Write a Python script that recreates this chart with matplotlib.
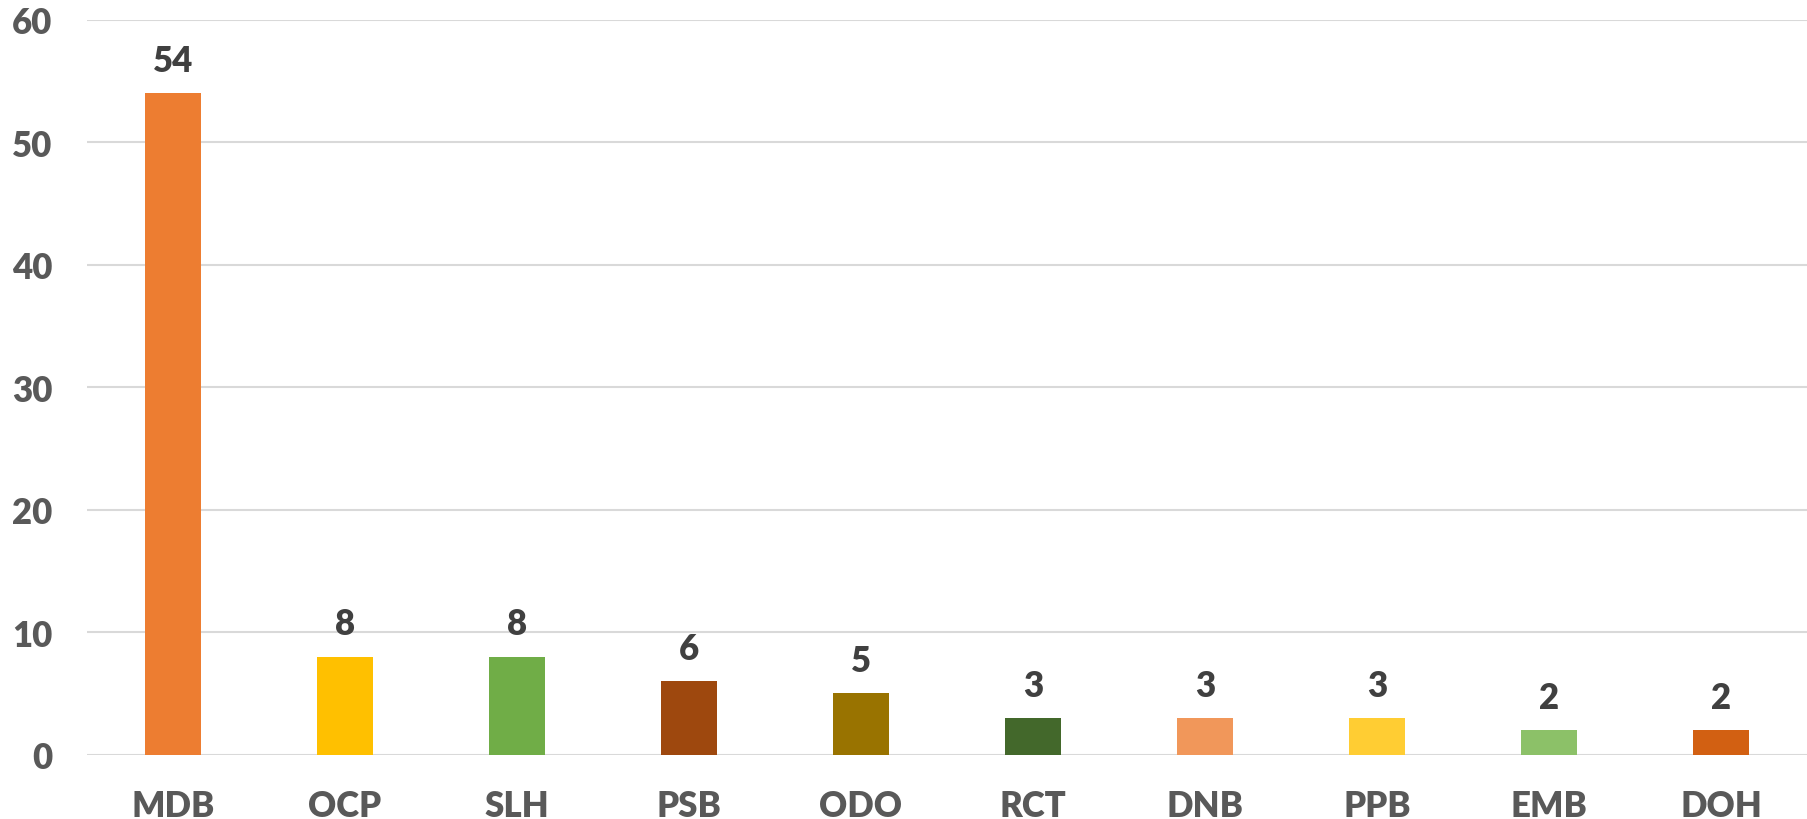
import matplotlib
matplotlib.use("Agg")
import matplotlib.pyplot as plt

categories = ["MDB", "OCP", "SLH", "PSB", "ODO", "RCT", "DNB", "PPB", "EMB", "DOH"]
values = [54, 8, 8, 6, 5, 3, 3, 3, 2, 2]
colors = ["#ED7D31", "#FFC000", "#70AD47", "#9E480E", "#997300",
          "#43682B", "#F1975A", "#FFCD33", "#8CC168", "#D26012"]
yticks = [0, 10, 20, 30, 40, 50, 60]

plt.rcParams['font.family'] = ['Lato', 'DejaVu Sans']
fig = plt.figure(figsize=(18.08, 8.2), dpi=100)
ax = fig.add_axes([87/1808, 64.5/820, 1720/1808, 734.5/820])

x = range(len(categories))
bars = ax.bar(x, values, width=0.32, color=colors, zorder=3)
ax.set_xlim(-0.5, len(categories) - 0.5)
ax.set_ylim(0, 60)
ax.set_yticks(yticks)
ax.set_xticks(list(x))
ax.set_xticklabels(categories)
ax.grid(axis='y', color='#D9D9D9', linewidth=1.5, zorder=0)
for s in ax.spines.values():
    s.set_visible(False)
ax.tick_params(axis='both', length=0, colors='#595959', labelsize=25)
ax.tick_params(axis='y', pad=25)
ax.tick_params(axis='x', pad=25)
for lab in ax.get_xticklabels() + ax.get_yticklabels():
    lab.set_fontweight('heavy')
for b, v in zip(bars, values):
    ax.annotate(str(v), (b.get_x() + b.get_width() / 2, v), xytext=(0, 16),
                textcoords='offset points', ha='center', va='baseline',
                fontsize=25, fontweight='heavy', color='#404040')

fig.savefig("out.png", dpi=100)
